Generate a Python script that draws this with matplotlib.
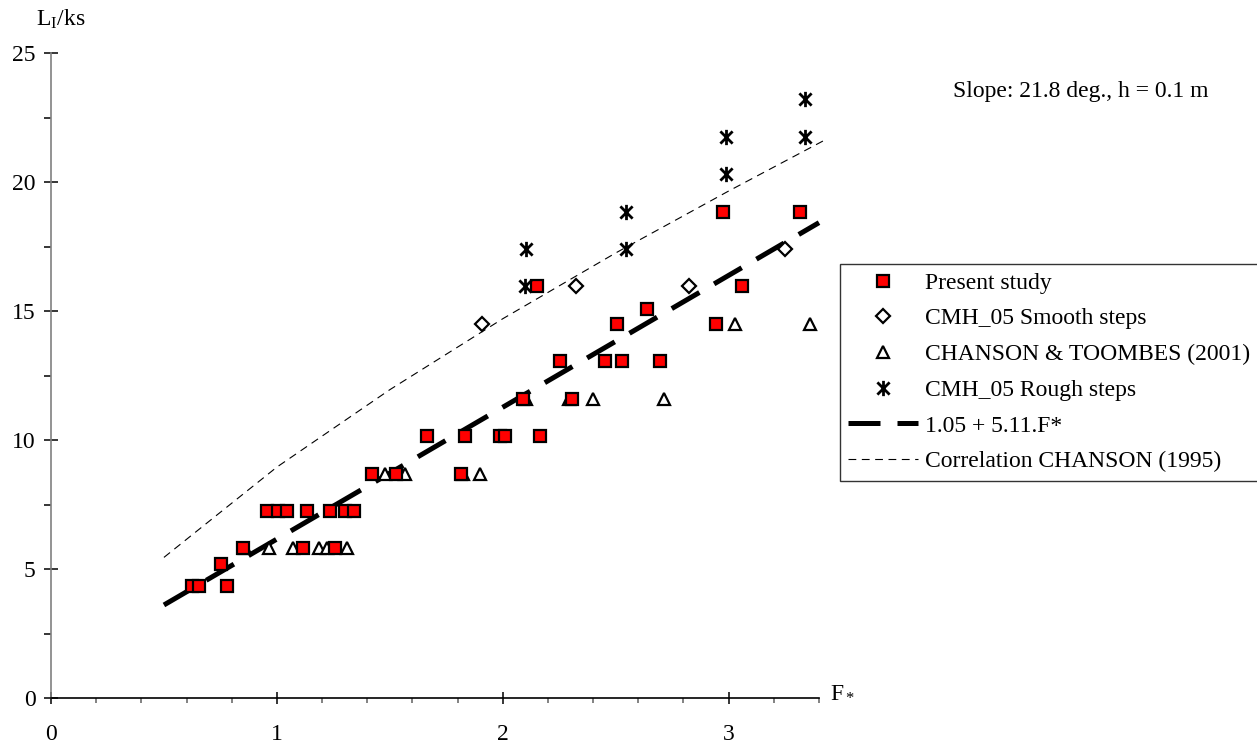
import matplotlib
matplotlib.use("Agg")
import matplotlib.pyplot as plt
from matplotlib.ticker import MultipleLocator
from matplotlib.lines import Line2D
from matplotlib.path import Path
import numpy as np

plt.rcParams["font.family"] = ["Liberation Serif", "DejaVu Serif"]
plt.rcParams["mathtext.fontset"] = "custom"
plt.rcParams["mathtext.rm"] = "Liberation Serif"
plt.rcParams["mathtext.it"] = "Liberation Serif:italic"

# Present study
present_x = [0.625, 0.655, 0.753, 0.778, 0.850, 0.955, 1.003, 1.047, 1.115, 1.132,
             1.235, 1.256, 1.300, 1.341, 1.422, 1.529, 1.666, 1.816, 1.834, 1.988,
             2.010, 2.091, 2.150, 2.164, 2.253, 2.307, 2.454, 2.507, 2.528, 2.639,
             2.698, 2.944, 2.973, 3.061, 3.314]
present_y = [4.35, 4.35, 5.2, 4.35, 5.8, 7.25, 7.25, 7.25, 5.8, 7.25,
             7.25, 5.8, 7.25, 7.25, 8.7, 8.7, 10.15, 8.7, 10.15, 10.15,
             10.15, 11.6, 15.95, 10.15, 13.05, 11.6, 13.05, 14.5, 13.05, 15.08,
             13.05, 14.5, 18.85, 15.95, 18.85]

# CMH_05 smooth steps
smooth_x = [1.907, 2.326, 2.826, 3.248]
smooth_y = [14.5, 15.95, 15.95, 17.4]

# Chanson & Toombes (2001)
ct_x = [0.860, 0.963, 1.072, 1.187, 1.220, 1.311, 1.478, 1.569, 1.826, 1.900,
        2.105, 2.292, 2.400, 2.713, 3.027, 3.360]
ct_y = [5.8, 5.8, 5.8, 5.8, 5.8, 5.8, 8.7, 8.7, 8.7, 8.7,
        11.6, 11.6, 11.6, 11.6, 14.5, 14.5]

# CMH_05 rough steps
rough_x = [2.098, 2.105, 2.547, 2.547, 2.988, 2.988, 3.338, 3.338]
rough_y = [15.95, 17.4, 17.4, 18.85, 20.3, 21.75, 21.75, 23.2]

# Linear fit L_I/ks = a + b.F*
fit_a, fit_b = 1.05, 5.11
fit_range = [0.5, 3.4]

# Correlation CHANSON (1995)
corr_x = [0.5, 1.0, 1.5, 2.0, 2.5, 3.0, 3.42]
corr_y = [5.45, 8.95, 11.95, 14.7, 17.25, 19.65, 21.6]

W, H = 1257, 749
fig = plt.figure(figsize=(W / 100, H / 100), dpi=100)
x0, x1, y0, y1 = 51, 819, 53, 698
ax = fig.add_axes([x0 / W, 1 - y1 / H, (x1 - x0) / W, (y1 - y0) / H])
ax.set_xlim(0, 3.4)
ax.set_ylim(0, 25)

fs = 17
ax.spines["top"].set_visible(False)
ax.spines["right"].set_visible(False)
ax.spines["left"].set_color("#808080")
ax.spines["left"].set_linewidth(1.2)
ax.spines["bottom"].set_color("black")
ax.spines["bottom"].set_linewidth(1.2)

ax.xaxis.set_major_locator(MultipleLocator(1))
ax.xaxis.set_minor_locator(MultipleLocator(0.2))
ax.yaxis.set_major_locator(MultipleLocator(5))
ax.yaxis.set_minor_locator(MultipleLocator(2.5))
ax.tick_params(axis="x", which="major", direction="inout", length=9, width=1.1,
               labelsize=fs, pad=14, color="black")
ax.tick_params(axis="x", which="minor", direction="out", length=3.6, width=1.1,
               color="#606060")
ax.tick_params(axis="y", which="major", direction="inout", length=10, width=1.1,
               labelsize=fs, pad=6, color="black")
ax.tick_params(axis="y", which="minor", direction="out", length=5, width=1.1,
               color="black")

# Correlation line
ax.plot(corr_x, corr_y, color="black", lw=0.8, dashes=(7, 5), clip_on=False, zorder=2)

# Fitted line
fx = np.array(fit_range)
ax.plot(fx, fit_a + fit_b * fx, color="black", lw=3.6, dashes=(6.4, 3.4),
        solid_capstyle="butt", dash_capstyle="butt", clip_on=False, zorder=3)

# Cross with a vertical bar for the rough-step marker
d = 0.8
star = Path([(0, -1), (0, 1), (-d, -d), (d, d), (-d, d), (d, -d)],
            [Path.MOVETO, Path.LINETO, Path.MOVETO, Path.LINETO,
             Path.MOVETO, Path.LINETO])

ms = 8.5
ax.plot(ct_x, ct_y, ls="none", marker="^", ms=ms, mfc="white", mec="black", mew=1.6,
        clip_on=False, zorder=4)
ax.plot(present_x, present_y, ls="none", marker="s", ms=ms, mfc="#ff0000", mec="black",
        mew=1.6, clip_on=False, zorder=5)
ax.plot(smooth_x, smooth_y, ls="none", marker="D", ms=7, mfc="white", mec="black",
        mew=1.6, clip_on=False, zorder=5)
ax.plot(rough_x, rough_y, ls="none", marker=star, ms=11, mec="black", mew=2.0,
        clip_on=False, zorder=5)

# Axis titles
fig.text(36 / W, 1 - 26 / H, r"L$_\mathrm{I}$/ks", fontsize=fs, ha="left",
         va="baseline")
fig.text(830 / W, 1 - 697 / H, r"F$_*$", fontsize=fs, ha="left", va="baseline")
fig.text(953 / W, 1 - 97 / H, "Slope: 21.8 deg., h = 0.1 m", fontsize=fs,
         ha="left", va="baseline")

handles = [
    Line2D([], [], ls="none", marker="s", ms=ms, mfc="#ff0000", mec="black", mew=1.6),
    Line2D([], [], ls="none", marker="D", ms=7, mfc="white", mec="black", mew=1.6),
    Line2D([], [], ls="none", marker="^", ms=ms, mfc="white", mec="black", mew=1.6),
    Line2D([], [], ls="none", marker=star, ms=11, mec="black", mew=2.0),
    Line2D([], [], color="black", lw=3.6, dashes=(6.4, 3.4), dash_capstyle="butt"),
    Line2D([], [], color="black", lw=0.8, dashes=(7, 5)),
]
labels = ["Present study", "CMH_05 Smooth steps", "CHANSON & TOOMBES (2001)",
          "CMH_05 Rough steps", "1.05 + 5.11.F*", "Correlation CHANSON (1995)"]
leg = fig.legend(handles, labels, loc="upper left",
                 bbox_to_anchor=(840 / W, 1 - 264 / H), fontsize=fs,
                 frameon=True, fancybox=False, edgecolor="black",
                 handlelength=2.95, handletextpad=0.3, labelspacing=0.6,
                 borderpad=0.35, borderaxespad=0)
leg.get_frame().set_linewidth(1.0)

fig.savefig("out.png", dpi=100, facecolor="white")
